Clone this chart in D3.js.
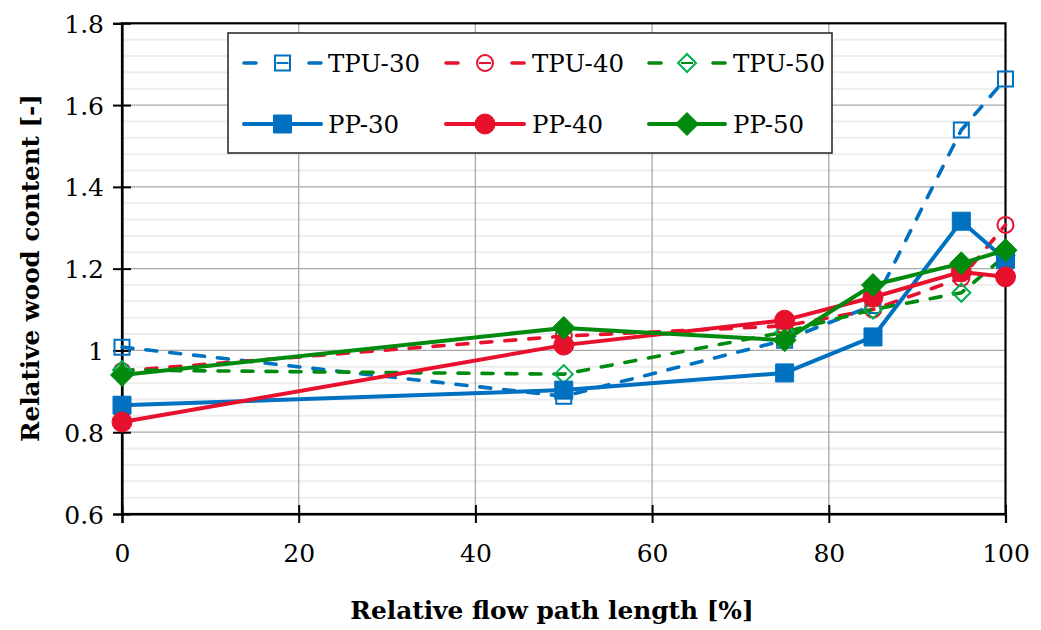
<!DOCTYPE html>
<html>
<head>
<meta charset="utf-8">
<script src="https://cdn.jsdelivr.net/npm/d3@7"></script>
<style>
  body { margin: 0; background: #fff; }
  svg { display: block; }
  text { fill: #000; }
</style>
</head>
<body>
<svg id="chart" width="1041" height="630"></svg>
<script>
// Relative flow path position [%] of each measuring point
const flowPath = [0, 50, 75, 85, 95, 100];

// Relative wood content per compound
const tpu30 = [1.008, 0.888, 1.025, 1.11, 1.539, 1.664];
const tpu40 = [0.950, 1.035, 1.060, 1.10, 1.177, 1.307];
const tpu50 = [0.952, 0.942, 1.045, 1.10, 1.141, 1.232];
const pp30  = [0.866, 0.903, 0.945, 1.033, 1.316, 1.222];
const pp40  = [0.825, 1.013, 1.074, 1.130, 1.192, 1.180];
const pp50  = [0.940, 1.055, 1.025, 1.160, 1.213, 1.245];

const seriesNames = ["TPU-30", "TPU-40", "TPU-50", "PP-30", "PP-40", "PP-50"];
const seriesValues = [tpu30, tpu40, tpu50, pp30, pp40, pp50];

const xTicks = [0, 20, 40, 60, 80, 100];
const xTickLabels = ["0", "20", "40", "60", "80", "100"];
const yTicks = [0.6, 0.8, 1, 1.2, 1.4, 1.6, 1.8];
const yTickLabels = ["0.6", "0.8", "1", "1.2", "1.4", "1.6", "1.8"];
const yMinorTicks = d3.range(0.6, 1.8001, 0.04).map(v => +v.toFixed(2));

const xTitle = "Relative flow path length [%]";
const yTitle = "Relative wood content [-]";

const SERIF = '"DejaVu Serif", serif';

// Visual style per series
const BLUE = "#0070C0", RED = "#E8112D", GREEN = "#008A0E", LGREEN = "#00B050";
const styles = [
  { color: BLUE,  dashed: true,  marker: "square",  filled: false, mcolor: BLUE },
  { color: RED,   dashed: true,  marker: "circle",  filled: false, mcolor: RED },
  { color: GREEN, dashed: true,  marker: "diamond", filled: false, mcolor: LGREEN },
  { color: BLUE,  dashed: false, marker: "square",  filled: true,  mcolor: BLUE },
  { color: RED,   dashed: false, marker: "circle",  filled: true,  mcolor: RED },
  { color: GREEN, dashed: false, marker: "diamond", filled: true,  mcolor: GREEN }
];

const svg = d3.select("#chart");
const W = 1041, H = 630;
const plot = { left: 122, right: 1005.5, top: 23.3, bottom: 514 };

svg.append("rect").attr("width", W).attr("height", H).attr("fill", "#fff");

const x = d3.scaleLinear().domain([0, 100]).range([plot.left, plot.right]);
const y = d3.scaleLinear().domain([0.6, 1.8]).range([plot.bottom, plot.top]);

// Minor horizontal gridlines
svg.append("g").selectAll("line")
  .data(yMinorTicks.filter(v => !yTicks.some(t => Math.abs(t - v) < 1e-6)))
  .join("line")
  .attr("x1", plot.left).attr("x2", plot.right)
  .attr("y1", d => y(d)).attr("y2", d => y(d))
  .attr("stroke", "#EDEDED").attr("stroke-width", 2);

// Major gridlines
svg.append("g").selectAll("line")
  .data(yTicks.slice(1, -1))
  .join("line")
  .attr("x1", plot.left).attr("x2", plot.right)
  .attr("y1", d => y(d)).attr("y2", d => y(d))
  .attr("stroke", "#A8A8A8").attr("stroke-width", 1.3);
svg.append("g").selectAll("line")
  .data(xTicks.slice(1, -1))
  .join("line")
  .attr("y1", plot.top).attr("y2", plot.bottom)
  .attr("x1", d => x(d)).attr("x2", d => x(d))
  .attr("stroke", "#A8A8A8").attr("stroke-width", 1.3);

// Plot frame
svg.append("rect")
  .attr("x", plot.left).attr("y", plot.top)
  .attr("width", plot.right - plot.left).attr("height", plot.bottom - plot.top)
  .attr("fill", "none").attr("stroke", "#000").attr("stroke-width", 2.2);

// Axes with ticks crossing the axis line
const TK = 9;
const yAxis = svg.append("g")
  .attr("transform", `translate(${plot.left},0)`)
  .call(d3.axisLeft(y).tickValues(yTicks).tickSize(TK).tickPadding(9)
    .tickFormat((d, i) => yTickLabels[i]));
yAxis.attr("font-family", null).attr("font-size", null);
yAxis.select(".domain").attr("stroke", "#000").attr("stroke-width", 2.2);
yAxis.selectAll(".tick line").attr("x1", TK).attr("stroke", "#000").attr("stroke-width", 2);
yAxis.selectAll(".tick text")
  .style("font-family", SERIF).style("font-size", "25px").attr("dy", "0.36em");

const xAxis = svg.append("g")
  .attr("transform", `translate(0,${plot.bottom})`)
  .call(d3.axisBottom(x).tickValues(xTicks).tickSize(TK).tickPadding(21)
    .tickFormat((d, i) => xTickLabels[i]));
xAxis.attr("font-family", null).attr("font-size", null);
xAxis.select(".domain").attr("stroke", "#000").attr("stroke-width", 2.2);
xAxis.selectAll(".tick line").attr("y1", -TK).attr("stroke", "#000").attr("stroke-width", 2);
xAxis.selectAll(".tick text")
  .style("font-family", SERIF).style("font-size", "25px");

// Axis titles
svg.append("text")
  .attr("x", 552).attr("y", 619)
  .attr("text-anchor", "middle")
  .style("font-family", SERIF)
  .style("font-size", "24.8px").style("font-weight", "bold")
  .text(xTitle);
svg.append("text")
  .attr("transform", `translate(39,268) rotate(-90)`)
  .attr("text-anchor", "middle")
  .style("font-family", SERIF)
  .style("font-size", "24.6px").style("font-weight", "bold")
  .text(yTitle);

// Marker shapes centred on (0,0)
function markerPath(kind, filled) {
  const p = d3.path();
  if (kind === "square") {
    const h = filled ? 9 : 7.5;
    p.rect(-h, -h, 2 * h, 2 * h);
  } else if (kind === "circle") {
    const r = filled ? 10 : 8;
    p.arc(0, 0, r, 0, 2 * Math.PI);
    p.closePath();
  } else {
    const d = filled ? 11.5 : 9;
    p.moveTo(0, -d); p.lineTo(d, 0); p.lineTo(0, d); p.lineTo(-d, 0); p.closePath();
  }
  return p.toString();
}

function drawMarker(g, kind, filled, color) {
  g.append("path")
    .attr("d", markerPath(kind, filled))
    .attr("fill", filled ? color : "none")
    .attr("stroke", color)
    .attr("stroke-width", filled ? 1 : 2)
    .attr("stroke-linejoin", filled ? "round" : "miter");
}

const line = d3.line().x(d => x(d[0])).y(d => y(d[1]));

// Data series: line then markers
seriesValues.forEach((vals, i) => {
  const st = styles[i];
  const pts = flowPath.map((f, k) => [f, vals[k]]);
  const g = svg.append("g").attr("class", "series");
  g.append("path")
    .datum(pts)
    .attr("d", line)
    .attr("fill", "none")
    .attr("stroke", st.color)
    .attr("stroke-width", st.dashed ? 3.6 : 4)
    .attr("stroke-linecap", "round")
    .attr("stroke-linejoin", "round")
    .attr("stroke-dasharray", st.dashed ? "11,13" : null);
  pts.forEach(p => {
    const mg = g.append("g").attr("transform", `translate(${x(p[0])},${y(p[1])})`);
    drawMarker(mg, st.marker, st.filled, st.mcolor);
  });
});

// Legend
const legend = svg.append("g");
legend.append("rect")
  .attr("x", 228).attr("y", 33).attr("width", 604).attr("height", 120)
  .attr("fill", "#fff").attr("stroke", "#222").attr("stroke-width", 1.5);

const colStart = [244, 446, 649];
const colEnd = [321, 524, 725];
const textX = [328, 532, 733];
const rowY = [63, 124];

seriesNames.forEach((name, i) => {
  const st = styles[i];
  const col = i % 3, row = Math.floor(i / 3);
  const x0 = colStart[col], x1 = colEnd[col], cy = rowY[row];
  const xm = (x0 + x1) / 2;
  const g = legend.append("g");
  const seg = (a, b) => g.append("line")
    .attr("x1", a).attr("x2", b).attr("y1", cy).attr("y2", cy)
    .attr("stroke", st.color).attr("stroke-width", st.dashed ? 3.6 : 4)
    .attr("stroke-linecap", "round");
  if (st.dashed) {
    seg(x0, x0 + 12);
    seg(x1 - 12, x1);
    seg(xm - 6, xm + 6).attr("stroke-width", 2).attr("stroke-linecap", "butt");
  } else {
    seg(x0, x1);
  }
  const mg = g.append("g").attr("transform", `translate(${xm},${cy})`);
  drawMarker(mg, st.marker, st.filled, st.mcolor);
  g.append("text")
    .attr("x", textX[col]).attr("y", cy)
    .attr("dy", "0.36em")
    .style("font-family", SERIF)
    .style("font-size", "24.5px")
    .text(name);
});
</script>
</body>
</html>
